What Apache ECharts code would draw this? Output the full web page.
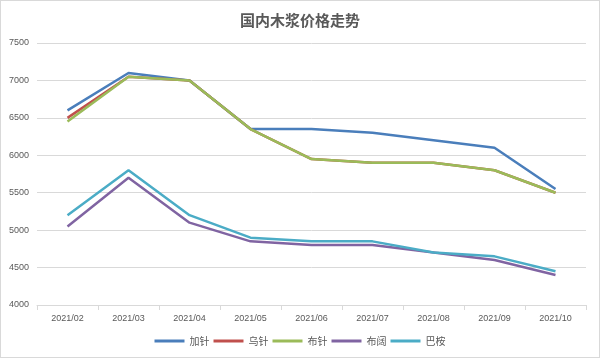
<!DOCTYPE html>
<html><head><meta charset="utf-8">
<script src="https://cdn.jsdelivr.net/npm/echarts@6/dist/echarts.min.js"></script>
<style>html,body{margin:0;padding:0;background:#fff}#c{width:600px;height:358px;box-sizing:border-box;border:1px solid #d9d9d9}</style>
</head><body><div id="c"></div>
<script>
const categories = ['2021/02','2021/03','2021/04','2021/05','2021/06','2021/07','2021/08','2021/09','2021/10'];
const jiaZhen = [6600,7100,7000,6350,6350,6300,6200,6100,5550];
const wuZhen  = [6500,7050,7000,6350,5950,5900,5900,5800,5500];
const buZhen  = [6450,7050,7000,6350,5950,5900,5900,5800,5500];
const buKuo   = [5050,5700,5100,4850,4800,4800,4700,4600,4400];
const baAn    = [5200,5800,5200,4900,4850,4850,4700,4650,4450];
const seriesNames = ['加针','乌针','布针','布阔','巴桉'];
const colors = ['#4a7ebb','#c0504d','#9bbb59','#8064a2','#4bacc6'];
const dataSets = [jiaZhen, wuZhen, buZhen, buKuo, baAn];

const chart = echarts.init(document.getElementById('c'));
chart.setOption({
  animation:false,
  color: colors,
  title:{text:'国内木浆价格走势',left:'center',top:7,textStyle:{fontFamily:'Noto Sans CJK SC',fontSize:15,fontWeight:'bold',color:'#595959'}},
  legend:{bottom:6,itemWidth:30,itemHeight:3,itemGap:4,icon:'rect',textStyle:{fontFamily:'Noto Sans CJK SC',fontSize:10,color:'#595959'},data:seriesNames},
  grid:{left:36,right:13,top:42,bottom:52},
  xAxis:{type:'category',data:categories,boundaryGap:true,
    axisLine:{lineStyle:{color:'#d9d9d9'}},axisTick:{show:true,length:5,lineStyle:{color:'#d9d9d9'}},
    axisLabel:{color:'#595959',fontSize:9,margin:9,fontFamily:'Liberation Sans'}},
  yAxis:{type:'value',min:4000,max:7500,interval:500,
    axisLine:{show:false},axisTick:{show:false},
    splitLine:{lineStyle:{color:'#d9d9d9'}},
    axisLabel:{color:'#595959',fontSize:9,margin:8,fontFamily:'Liberation Sans',formatter:v=>String(v)}},
  series: seriesNames.map((n,i)=>({name:n,type:'line',data:dataSets[i],symbol:'none',lineStyle:{width:2.5}}))
});
</script></body></html>
